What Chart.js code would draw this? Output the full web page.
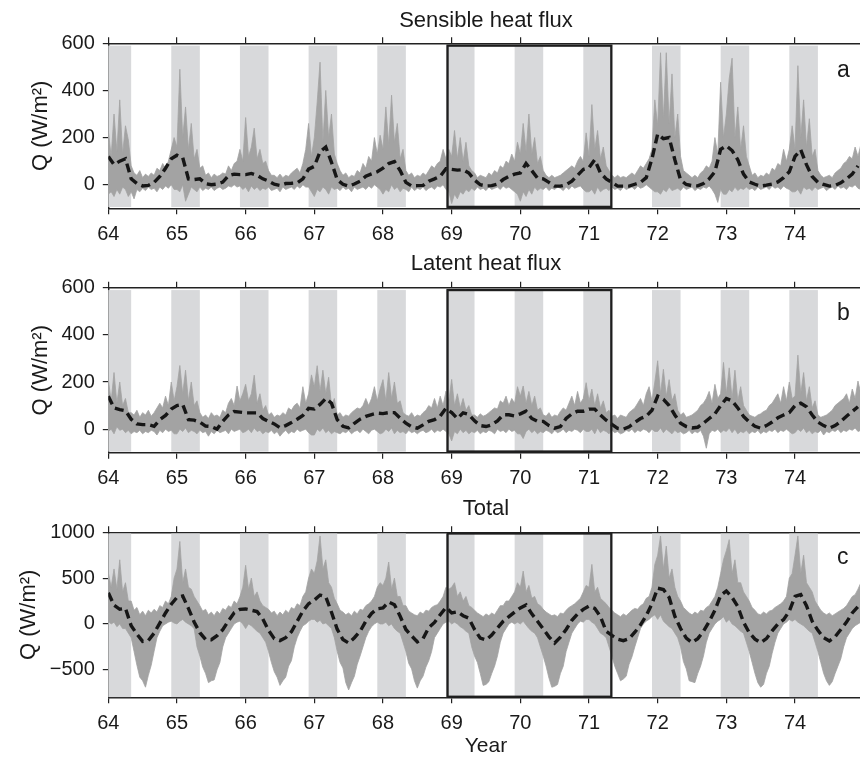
<!DOCTYPE html>
<html><head><meta charset="utf-8">
<script src="https://cdn.jsdelivr.net/npm/chart.js@4.4.1/dist/chart.umd.min.js"></script>
<style>
html,body{margin:0;padding:0;background:#fff;overflow:hidden;width:860px;height:758px;}
canvas{position:absolute;left:0;}
</style></head><body>
<canvas id="ca" width="866" height="262" style="top:0px"></canvas>
<canvas id="cb" width="866" height="262" style="top:240px"></canvas>
<canvas id="cc" width="866" height="278" style="top:480px"></canvas>
<script>
// ---- axis / category data ----
const xTicks = [64,65,66,67,68,69,70,71,72,73,74];
const bandStart = [63.917,64.917,65.917,66.917,67.917,68.917,69.917,70.917,71.917,72.917,73.917];
const bandEnd   = [64.333,65.333,66.333,67.333,68.333,69.333,70.333,71.333,72.333,73.333,74.333];
const boxRange = [68.94, 71.325];
const yTicksA = [0,200,400,600];
const yTicksB = [0,200,400,600];
const yTicksC = [-500,0,500,1000];

// ---- Sensible heat flux (a): monthly mean and 24-per-year envelope ----
const aMean = [
120,85,100,110,25,5,-5,-3,10,35,70,110,
125,115,25,22,25,5,0,3,11,38,45,43,
43,48,40,25,16,2,-3,5,6,8,25,66,
78,140,160,95,22,2,-6,3,15,36,46,55,
70,90,98,60,10,-5,-4,-3,15,25,36,68,
65,62,64,50,20,0,-5,-4,3,22,35,45,
50,90,60,28,25,10,-6,-6,0,15,40,65,
72,106,50,25,10,-6,-6,-6,2,10,30,110,
215,195,200,106,20,1,-4,-5,5,25,55,150,
165,145,106,45,12,2,-6,-2,3,12,30,55,
120,148,85,35,10,1,-6,-3,8,25,45,80];
const aHi = [
230,120,300,140,360,130,250,190,80,50,40,60,30,45,35,50,40,70,60,90,70,100,150,200,
160,490,200,330,150,260,110,150,70,80,40,50,30,45,35,40,50,45,80,60,90,100,150,100,
285,120,160,240,110,150,90,100,60,40,40,30,45,30,40,35,50,60,70,50,90,150,260,120,
200,350,520,180,400,200,300,130,90,60,40,50,30,40,35,60,50,90,70,120,100,200,130,210,
150,330,170,380,180,260,110,150,60,40,50,30,40,35,50,40,60,80,70,90,100,150,110,150,
120,230,110,200,100,180,80,60,50,30,40,35,30,50,40,60,50,80,70,100,90,130,100,180,
130,260,140,300,130,200,90,120,60,40,30,40,30,35,40,50,60,70,80,70,100,120,100,220,
120,340,150,230,110,160,80,60,40,30,40,30,35,30,40,50,40,60,80,70,90,110,150,360,
250,560,280,560,260,470,200,300,120,60,50,40,30,40,30,50,60,80,70,100,200,130,435,200,
300,450,537,200,330,150,250,120,80,40,50,30,40,35,50,40,70,60,90,80,150,100,150,250,
150,505,200,360,160,280,120,150,60,40,30,35,40,30,50,60,70,90,100,120,110,160,120,170];
const aLo = [
-40,-30,-50,-20,-40,-10,-20,-50,-30,-60,-20,-30,-15,-25,-10,-20,-15,-30,-10,-20,-5,-15,0,-20,
-20,-30,0,-70,-40,-10,-20,-30,-10,-25,-15,-20,-10,-25,-15,-10,-20,-15,-5,-10,0,-10,-5,-20,
-10,-30,-5,-20,-10,-25,-15,-20,-10,-25,-20,-15,-30,-10,-20,-15,-10,-20,-5,-15,0,-10,-10,-30,
-50,-20,-30,-10,-20,-40,-10,-20,-15,-25,-10,-20,-15,-30,-10,-20,-15,-10,-20,-5,-15,0,-10,-20,
-40,-20,-30,0,-20,-10,-30,-15,-20,-30,-10,-25,-15,-20,-10,-25,-15,-10,-20,-5,-10,0,-20,-30,
-80,-40,-60,-30,-40,-20,-30,-15,-25,-10,-20,-15,-25,-10,-20,-15,-10,-20,-5,-15,-10,-20,-30,-40,
-70,-30,-50,-20,-40,-10,-25,-15,-20,-10,-25,-15,-20,-10,-15,-25,-10,-20,-5,-15,-10,-5,-20,-30,
-30,-20,-40,-10,-30,-20,-15,-25,-10,-20,-15,-25,-10,-20,-15,-10,-20,-5,-15,-10,0,-10,-20,-30,
-30,-40,-20,-30,-10,-25,-20,-15,-25,-10,-20,-15,-10,-25,-15,-20,-10,-15,-5,-20,-40,-75,-20,-40,
-40,-20,-30,-10,-25,-15,-20,-10,-20,-15,-25,-10,-20,-15,-10,-20,-5,-15,-10,-20,-5,-15,-20,-30,
-30,-20,-40,-10,-20,-15,-25,-10,-20,-15,-10,-25,-15,-10,-20,-5,-15,-10,-20,-5,-10,0,-15,-20];

// ---- Latent heat flux (b) ----
const bMean = [
140,90,83,78,42,22,19,19,12,40,58,85,
100,105,40,38,30,13,11,0,33,60,75,72,
69,69,69,45,33,22,6,15,28,42,58,88,
85,105,130,110,40,12,5,25,42,54,62,68,
66,70,70,47,25,10,4,18,33,40,55,88,
70,45,69,62,35,15,11,18,35,61,61,56,
65,76,45,33,33,15,4,11,45,65,76,76,
85,85,60,38,20,3,0,10,28,45,55,80,
140,126,100,60,25,11,5,8,25,45,65,100,
130,120,90,54,30,12,4,15,30,48,60,70,
100,110,95,60,30,15,4,15,33,55,75,95];
const bHi = [
210,120,240,110,200,100,130,70,70,60,80,50,70,60,80,55,70,90,110,90,140,100,200,120,
180,270,150,250,120,200,100,120,70,50,60,45,70,55,60,50,80,70,110,130,100,183,120,150,
190,120,150,229,110,150,80,100,60,70,50,60,55,70,60,90,80,100,110,90,180,110,150,230,
180,269,160,250,150,220,100,130,60,70,50,60,55,70,80,90,85,100,130,100,130,180,120,170,
210,120,240,130,200,110,120,70,60,55,70,50,60,55,70,80,100,90,130,90,140,100,161,120,
211,100,150,90,130,80,100,60,60,50,65,55,60,70,80,90,85,120,110,140,100,130,110,180,
140,183,110,160,100,140,80,90,60,55,70,50,60,55,75,90,80,110,140,100,160,110,130,197,
120,170,100,150,90,120,70,80,55,60,45,60,55,50,70,80,90,110,130,100,150,180,120,200,
290,150,254,140,210,120,150,80,60,70,50,55,60,70,80,100,110,130,160,110,190,130,150,283,
150,260,130,250,120,180,100,80,60,55,50,60,65,75,80,100,110,130,150,110,180,120,200,130,
140,314,150,240,120,180,90,120,60,50,55,60,70,80,100,110,120,130,150,110,170,130,204,150];
const bLo = [
-10,0,-20,10,-5,0,-15,-5,-20,-10,-15,-5,-20,-10,-15,-5,-10,-25,-5,-15,0,-10,-5,-20,
-20,0,-10,5,-15,-5,-10,-20,-5,-15,-10,-30,-10,-20,-5,-15,-10,-5,-20,0,-10,-5,0,-15,
-10,0,-15,5,-10,-5,-20,-10,-15,-5,-20,-10,-30,-15,-5,-20,-10,-15,0,-10,-5,0,-15,-25,
-25,0,-10,5,-15,-5,-20,-10,-15,-20,-10,-15,-5,-20,-10,-5,-15,0,-10,-20,-5,0,-10,-20,
-15,0,-10,5,-20,-5,-15,-10,-20,-5,-15,-10,-20,-10,-5,-15,-10,0,-15,-5,-10,0,-10,-20,
-50,-10,-20,0,-15,-5,-20,-10,-15,-5,-20,-10,-15,-5,-10,-20,0,-10,-5,-15,0,-10,-5,-20,
-20,-40,-10,0,-15,-5,-20,-10,-15,-5,-10,-20,-5,-15,-10,0,-15,-5,-10,0,-5,-15,0,-10,
-10,0,-20,5,-15,-5,-10,-20,-5,-15,-10,-20,-15,-5,-10,0,-15,-5,-10,0,-5,-15,0,-10,
-10,5,-15,0,-10,-20,-5,-15,-10,-20,-15,-5,-20,-10,-15,-5,-30,-81,-20,-5,-10,0,-15,-5,
-10,5,-15,0,-20,-10,-15,-5,-20,-10,-15,-5,-20,-10,-15,-5,-10,0,-15,-5,-10,0,-10,-20,
-15,0,-10,5,-15,-5,-20,-10,-15,-5,-25,-10,-15,-5,-10,0,-15,-5,-10,0,-5,5,-10,-5];

// ---- Total (c) ----
const cMean = [
340,205,160,170,-20,-110,-190,-180,-100,10,120,215,
290,305,170,22,-95,-169,-172,-128,-62,34,122,160,
164,150,135,56,-70,-160,-181,-150,-85,29,140,220,
260,315,297,128,-57,-170,-208,-150,-80,30,115,166,
175,240,210,84,-60,-130,-195,-160,-40,17,100,180,
121,133,90,63,-60,-155,-175,-120,-45,29,80,130,
175,208,110,30,-55,-140,-208,-145,-60,40,110,160,
195,170,80,-80,-125,-165,-182,-160,-90,-10,90,220,
390,376,290,84,-50,-155,-203,-160,-80,25,150,310,
360,290,190,20,-95,-165,-205,-160,-75,0,47,140,
300,320,200,29,-70,-150,-185,-140,-60,20,120,190];
const cHi = [
560,400,600,380,700,350,450,250,250,150,180,100,140,90,150,120,160,130,200,180,250,220,300,500,
600,900,450,600,400,380,300,250,200,140,160,100,130,90,140,110,170,150,200,180,250,220,300,400,
640,380,500,300,350,250,200,180,160,120,140,90,130,100,150,120,180,160,220,200,300,350,500,600,
550,687,960,600,700,450,400,280,220,150,130,100,120,90,140,110,160,150,200,220,250,300,400,450,
420,500,676,380,500,300,300,200,200,140,120,100,90,130,110,150,140,180,200,210,250,300,400,380,
400,450,300,350,250,300,200,180,150,120,100,80,110,90,120,100,150,200,200,250,250,300,350,450,
400,577,350,420,280,300,220,200,160,130,110,90,100,80,120,110,150,180,200,220,250,280,350,420,
400,650,350,400,280,250,220,180,150,120,100,80,110,90,120,150,170,160,200,220,280,300,400,650,
750,960,600,850,500,600,400,300,250,180,150,120,100,130,110,150,140,180,200,250,300,400,550,700,
800,920,550,700,450,450,350,300,250,180,150,110,100,130,110,140,150,180,200,220,250,300,500,550,
750,960,550,750,450,400,350,250,200,150,120,100,120,90,110,130,150,170,200,250,300,320,380,450];
const cLo = [
30,0,20,-30,0,-50,-50,-100,-150,-300,-450,-580,-620,-690,-560,-450,-300,-150,-80,-20,0,20,30,10,
0,30,50,20,0,-20,-50,-250,-350,-470,-540,-640,-620,-610,-500,-420,-250,-150,-100,-50,0,20,30,0,
-50,0,-20,-50,-80,-100,-150,-200,-300,-420,-520,-580,-670,-620,-580,-460,-400,-250,-150,-80,-20,0,30,50,
50,20,40,0,10,-20,-50,-150,-300,-420,-480,-640,-720,-640,-570,-440,-350,-250,-150,-80,-30,0,20,0,
0,20,-20,0,-50,-80,-100,-200,-300,-430,-490,-620,-700,-620,-570,-470,-400,-300,-150,-100,-50,0,20,30,
0,20,0,-30,-50,-80,-100,-250,-350,-420,-540,-670,-660,-630,-540,-460,-350,-200,-100,-50,0,20,0,20,
0,30,-10,-50,-80,-100,-150,-250,-350,-460,-590,-690,-680,-660,-540,-460,-300,-200,-100,-50,0,30,20,50,
50,20,0,-50,-100,-120,-150,-250,-350,-460,-540,-620,-600,-570,-440,-360,-250,-150,-50,0,30,50,80,100,
50,100,30,0,-30,-50,-100,-150,-250,-410,-490,-620,-630,-640,-540,-460,-350,-200,-100,-50,0,30,50,80,
20,50,0,-20,-50,-80,-100,-200,-300,-420,-540,-640,-690,-660,-540,-460,-320,-200,-100,-50,0,20,50,30,
50,20,0,-20,-50,-80,-100,-200,-300,-420,-540,-620,-670,-630,-540,-460,-380,-250,-150,-100,-50,-20,0,20];

// ---- rendering ----
const FONT = '"Liberation Sans", Arial, Helvetica, sans-serif';
const INK = '#1a1a1a';
const GRAY = '#a3a3a3';

function toXY(vals, perYear){ return vals.map((v,i)=>({x: 64 + i/perYear, y: v})); }

const decor = {
  id: 'decor',
  beforeDatasetsDraw(chart, args, o){
    const {ctx, chartArea: ca, scales} = chart;
    const x = scales.x, y = scales.y;
    ctx.save();
    ctx.beginPath(); ctx.rect(ca.left, ca.top, ca.right-ca.left, ca.bottom-ca.top); ctx.clip();
    ctx.fillStyle = '#d8d9db';
    const yt = y.getPixelForValue(o.bandTop), yb = y.getPixelForValue(o.bandBottom);
    for (let i=0;i<bandStart.length;i++){
      const xa = x.getPixelForValue(bandStart[i]), xb = x.getPixelForValue(bandEnd[i]);
      ctx.fillRect(xa, yt, xb-xa, yb-yt);
    }
    ctx.restore();
  },
  afterDatasetsDraw(chart, args, o){
    const {ctx, scales} = chart;
    const x = scales.x, y = scales.y;
    ctx.save();
    ctx.strokeStyle = '#1e1e1e'; ctx.lineWidth = 2.3;
    const xa = x.getPixelForValue(boxRange[0]), xb = x.getPixelForValue(boxRange[1]);
    const yt = y.getPixelForValue(o.bandTop), yb = y.getPixelForValue(o.boxBottom);
    ctx.strokeRect(xa, yt, xb-xa, yb-yt);
    ctx.restore();
  },
  afterDraw(chart, args, o){
    const {ctx} = chart;
    ctx.save();
    ctx.fillStyle = INK;
    ctx.textBaseline = 'alphabetic';
    ctx.font = '22px ' + FONT; ctx.textAlign = 'center';
    ctx.fillText(o.title, 486, o.titleY);
    ctx.font = '23px ' + FONT; ctx.textAlign = 'left';
    ctx.fillText(o.letter, 837, o.letterY);
    ctx.restore();
  }
};

function makePanel(id, cfg){
  const cv = document.getElementById(id);
  const H = cv.height;
  const gridOpts = {drawOnChartArea:false, drawTicks:true, tickLength:6, color:'#222', lineWidth:1.2};
  const borderOpts = {display:true, color:'#222', width:1.4};
  const xt = s => { s.ticks = xTicks.map(v => ({value:v})); };
  new Chart(cv, {
    type: 'line',
    data: { datasets: [
      {data: toXY(cfg.mean, 12), borderColor:'#161616', borderWidth:3.4, borderDash:[9,5], pointRadius:0, fill:false, tension:0},
      {data: toXY(cfg.lo, 24), borderColor:GRAY, borderWidth:0.8, pointRadius:0, fill:false, tension:0},
      {data: toXY(cfg.hi, 24), borderColor:GRAY, backgroundColor:GRAY, borderWidth:0.8, pointRadius:0, fill:1, tension:0}
    ]},
    options: {
      responsive:false, animation:false, devicePixelRatio:1, events:[],
      layout: {padding: {top: cfg.top - 6, left: 0, right: 866 - 863.7, bottom: 0}},
      plugins: {
        legend:{display:false}, tooltip:{enabled:false}, title:{display:false},
        decor: {bandTop: cfg.bandTop, bandBottom: cfg.bandBottom, boxBottom: cfg.boxBottom,
                title: cfg.title, titleY: cfg.titleY, letter: cfg.letter, letterY: cfg.letterY}
      },
      scales: {
        x: {type:'linear', position:'bottom', min:64, max:75,
            afterBuildTicks: xt,
            afterFit: s => { s.height = H - cfg.bottom; },
            grid: gridOpts, border: borderOpts,
            ticks: {padding:8, color:INK, font:{family:FONT, size:20}, maxRotation:0, autoSkip:false, callback: v => String(v)},
            title: cfg.xTitle ? {display:true, text:cfg.xTitle, color:INK, font:{family:FONT, size:21, lineHeight:1.1}, padding:{top:0,bottom:0}} : {display:false}
        },
        x2: {type:'linear', position:'top', min:64, max:75,
             afterBuildTicks: xt,
             afterFit: s => { s.height = 6; },
             grid: gridOpts, border: borderOpts,
             ticks: {display:false}
        },
        y: {type:'linear', position:'left', min:cfg.yMin, max:cfg.yMax,
            afterBuildTicks: s => { s.ticks = cfg.yTicks.map(v => ({value:v})); },
            afterFit: s => { s.width = 108.3; },
            grid: Object.assign({}, gridOpts, {tickLength:5.5}), border: borderOpts,
            ticks: {padding:8, color:INK, font:{family:FONT, size:20}, callback: v => String(v).replace('-', '\u2212')},
            title: {display:true, text:'Q (W/m\u00B2)', color:INK, font:{family:FONT, size:22}, padding:{top:cfg.yTitlePad, bottom:0}}
        }
      }
    },
    plugins: [decor]
  });
}

makePanel('ca', {mean:aMean, hi:aHi, lo:aLo, yMin:-100, yMax:600, yTicks:yTicksA,
  top:43.3, bottom:208.3, bandTop:590, bandBottom:-94.5, boxBottom:-94,
  title:'Sensible heat flux', titleY:27, letter:'a', letterY:77, yTitlePad:27.8});
makePanel('cb', {mean:bMean, hi:bHi, lo:bLo, yMin:-100, yMax:600, yTicks:yTicksB,
  top:47.7, bottom:212.7, bandTop:590, bandBottom:-95.5, boxBottom:-95,
  title:'Latent heat flux', titleY:30, letter:'b', letterY:80, yTitlePad:27.8});
makePanel('cc', {mean:cMean, hi:cHi, lo:cLo, yMin:-800, yMax:1000, yTicks:yTicksC,
  top:52.3, bottom:217.3, bandTop:987, bandBottom:-800, boxBottom:-794,
  title:'Total', titleY:35, letter:'c', letterY:84, yTitlePad:16, xTitle:'Year'});
</script>
</body></html>
